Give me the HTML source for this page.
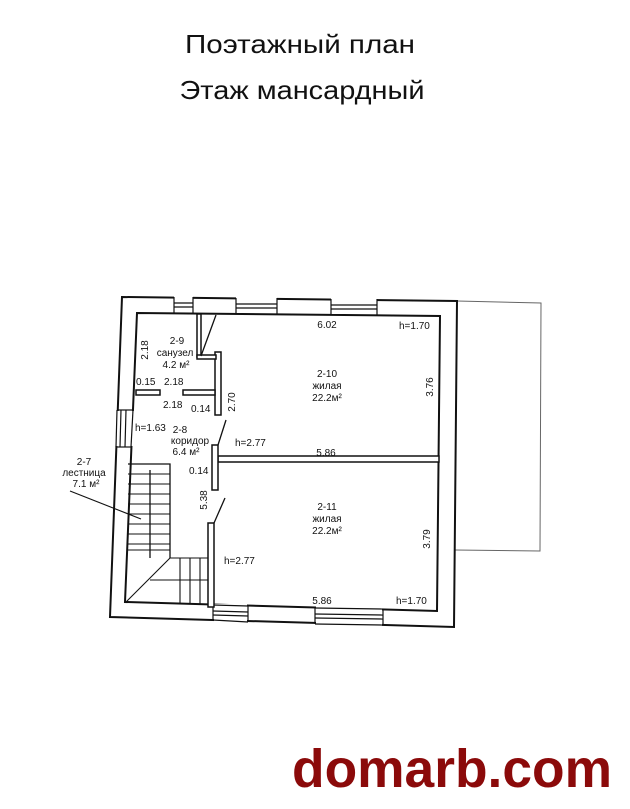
<!DOCTYPE html>
<html><head><meta charset="utf-8"><style>
html,body{margin:0;padding:0;background:#fff;}
svg{display:block}
text{font-family:"Liberation Sans","DejaVu Sans",sans-serif;fill:#111}
</style></head><body>
<svg width="630" height="809" viewBox="0 0 630 809" xmlns="http://www.w3.org/2000/svg">
<rect width="630" height="809" fill="#fff"/>
<text x="300" y="53" font-size="26" text-anchor="middle" textLength="230" lengthAdjust="spacingAndGlyphs">Поэтажный план</text>
<text x="302" y="99" font-size="26" text-anchor="middle" textLength="245" lengthAdjust="spacingAndGlyphs">Этаж мансардный</text>

<polyline points="457,301 541,303 540,551 455,550" fill="none" stroke="#666" stroke-width="1"/>

<g fill="none" stroke="#111" stroke-width="2">
<polygon points="122,297 457,301 454,627 110,617"/>
<polygon points="137,313 440,316 437,611 125,602"/>
</g>
<g stroke="#111" stroke-width="1.2" fill="#fff">
<rect x="174" y="296" width="19" height="16" stroke="none"/>
<rect x="236" y="297" width="41" height="16" stroke="none"/>
<rect x="331" y="298" width="46" height="16" stroke="none"/>
<line x1="174" y1="297" x2="174" y2="313"/><line x1="193" y1="297" x2="193" y2="313"/>
<line x1="174" y1="303" x2="193" y2="303"/><line x1="174" y1="307" x2="193" y2="307"/>
<line x1="236" y1="298" x2="236" y2="314"/><line x1="277" y1="298" x2="277" y2="314"/>
<line x1="236" y1="304" x2="277" y2="304"/><line x1="236" y1="308" x2="277" y2="308"/>
<line x1="331" y1="299" x2="331" y2="315"/><line x1="377" y1="299" x2="377" y2="315"/>
<line x1="331" y1="305" x2="377" y2="305"/><line x1="331" y1="309" x2="377" y2="309"/>
<rect x="114" y="411" width="21" height="35" stroke="none"/>
<line x1="117" y1="410" x2="133" y2="410"/><line x1="116" y1="447" x2="131" y2="447"/>
<line x1="121" y1="410" x2="120" y2="447"/><line x1="126" y1="410" x2="125" y2="447"/>
<line x1="117" y1="410" x2="116" y2="447"/><line x1="133" y1="410" x2="131" y2="447"/>
<rect x="214" y="604" width="33" height="20" stroke="none"/>
<rect x="316" y="606" width="66" height="21" stroke="none"/>
<line x1="213" y1="605" x2="213" y2="620"/><line x1="248" y1="606" x2="248" y2="622"/>
<line x1="213" y1="611" x2="248" y2="612"/><line x1="213" y1="615" x2="248" y2="616"/>
<line x1="213" y1="605" x2="248" y2="606"/><line x1="213" y1="620" x2="248" y2="622"/>
<line x1="315" y1="608" x2="315" y2="624"/><line x1="383" y1="609" x2="383" y2="625"/>
<line x1="315" y1="614" x2="383" y2="615"/><line x1="315" y1="618" x2="383" y2="619"/>
<line x1="315" y1="608" x2="383" y2="609"/><line x1="315" y1="624" x2="383" y2="625"/>
</g>

<g fill="#fff" stroke="#111" stroke-width="1.5">
<rect x="218" y="456" width="221" height="6"/>
<rect x="212" y="445" width="6" height="45"/>
<rect x="208" y="523" width="6" height="84"/>
<rect x="215" y="352" width="6" height="63"/>
<rect x="197" y="314" width="4" height="43"/>
<rect x="197" y="355" width="19" height="4"/>
<rect x="183" y="390" width="32" height="5"/>
<rect x="136" y="390" width="24" height="5"/>
</g>
<g stroke="#111" stroke-width="1.3" fill="none">
<line x1="201" y1="356" x2="216" y2="315"/>
<line x1="218" y1="445" x2="226" y2="420"/>
<line x1="214" y1="523" x2="225" y2="498"/>
<polyline points="128,464 170,464 170,558"/>
<line x1="150" y1="470" x2="150" y2="558"/>
</g>
<g stroke="#111" stroke-width="1.1">
<line x1="128" y1="474" x2="170" y2="474"/><line x1="128" y1="484" x2="170" y2="484"/>
<line x1="128" y1="494" x2="170" y2="494"/><line x1="128" y1="504" x2="170" y2="504"/>
<line x1="128" y1="514" x2="170" y2="514"/><line x1="128" y1="524" x2="170" y2="524"/>
<line x1="128" y1="534" x2="170" y2="534"/><line x1="128" y1="544" x2="170" y2="544"/>
<line x1="128" y1="550" x2="170" y2="550"/>
<line x1="170" y1="558" x2="208" y2="558"/>
<line x1="150" y1="580" x2="208" y2="580"/>
<line x1="180" y1="558" x2="180" y2="604"/><line x1="190" y1="558" x2="190" y2="604"/>
<line x1="200" y1="558" x2="200" y2="605"/>
<line x1="126" y1="602" x2="170" y2="558"/>
<line x1="70" y1="491" x2="141" y2="519"/>
</g>

<g font-size="10">
<text x="177" y="344" text-anchor="middle">2-9</text>
<text x="175" y="356" text-anchor="middle">санузел</text>
<text x="176" y="368" text-anchor="middle">4.2 м²</text>
<text x="148" y="350" transform="rotate(-90 148 350)" text-anchor="middle">2.18</text>
<text x="136" y="385">0.15</text>
<text x="164" y="385">2.18</text>
<text x="163" y="408">2.18</text>
<text x="191" y="412">0.14</text>
<text x="235" y="402" transform="rotate(-90 235 402)" text-anchor="middle">2.70</text>
<text x="135" y="431">h=1.63</text>
<text x="180" y="433" text-anchor="middle">2-8</text>
<text x="190" y="444" text-anchor="middle">коридор</text>
<text x="186" y="455" text-anchor="middle">6.4 м²</text>
<text x="189" y="474">0.14</text>
<text x="207" y="500" transform="rotate(-90 207 500)" text-anchor="middle">5.38</text>
<text x="84" y="465" text-anchor="middle">2-7</text>
<text x="84" y="476" text-anchor="middle">лестница</text>
<text x="86" y="487" text-anchor="middle">7.1 м²</text>
<text x="235" y="446">h=2.77</text>
<text x="326" y="456" text-anchor="middle">5.86</text>
<text x="327" y="328" text-anchor="middle">6.02</text>
<text x="399" y="329">h=1.70</text>
<text x="327" y="377" text-anchor="middle">2-10</text>
<text x="327" y="389" text-anchor="middle">жилая</text>
<text x="327" y="401" text-anchor="middle">22.2м²</text>
<text x="433" y="387" transform="rotate(-90 433 387)" text-anchor="middle">3.76</text>
<text x="327" y="510" text-anchor="middle">2-11</text>
<text x="327" y="522" text-anchor="middle">жилая</text>
<text x="327" y="534" text-anchor="middle">22.2м²</text>
<text x="430" y="539" transform="rotate(-90 430 539)" text-anchor="middle">3.79</text>
<text x="224" y="564">h=2.77</text>
<text x="322" y="604" text-anchor="middle">5.86</text>
<text x="396" y="604">h=1.70</text>
</g>

<text x="452" y="787" font-size="54" font-weight="bold" text-anchor="middle" style="fill:#8b0a0a" textLength="320" lengthAdjust="spacingAndGlyphs">domarb.com</text>
</svg>
</body></html>
